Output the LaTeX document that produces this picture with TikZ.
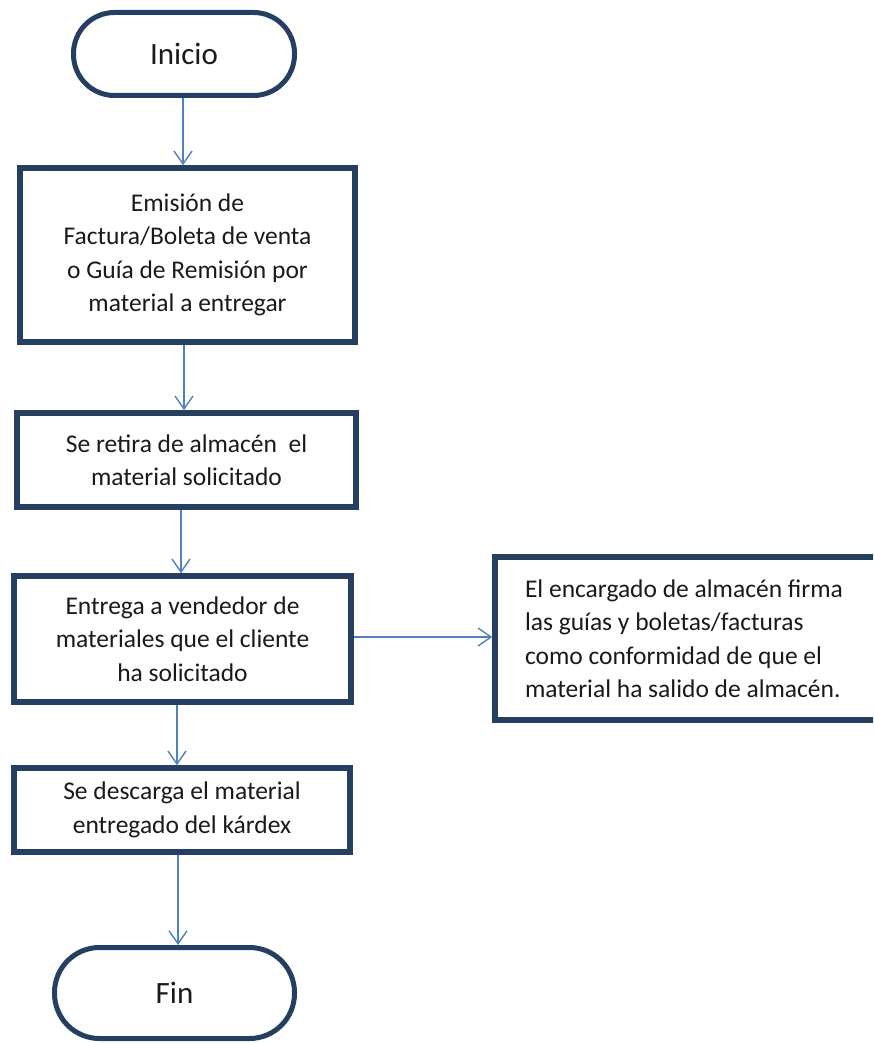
\documentclass[tikz,border=0pt]{standalone}
\usepackage{fontspec}
\setmainfont{Carlito}
\usetikzlibrary{arrows.meta}
\definecolor{navy}{HTML}{243F60}
\definecolor{arrowblue}{HTML}{4F81BD}
\definecolor{txt}{HTML}{1A1A1A}
\begin{document}
\begin{tikzpicture}[x=1pt,y=-1pt,
  term/.style={draw=navy,line width=5pt,rounded corners=41pt,minimum height=83pt,
    text=txt,font={\fontsize{31}{36}\selectfont},inner sep=0pt},
  procbox/.style={draw=navy,line width=5.5pt,text=txt,align=center,inner sep=0pt,
    font={\fontsize{25.5}{33.5}\selectfont}},
  arr/.style={draw=arrowblue,line width=1.4pt,-{Straight Barb[length=13pt,width=18pt,line width=1.4pt]}}
]
\useasboundingbox (0,0) rectangle (873,1043);
\clip (0,0) rectangle (873,1043);
\fill[white] (0,0) rectangle (873,1043);

\node[term,minimum width=221pt] (ini) at (184,54) {Inicio};
\node[procbox,minimum width=335pt,minimum height=174pt] (b1) at (187.5,255)
  {Emisión de\\Factura/Boleta de venta\\o Guía de Remisión por\\material a entregar};
\node[procbox,minimum width=339pt,minimum height=94pt] (b2) at (186.5,460)
  {Se retira de almacén\ \ el\\material solicitado};
\node[procbox,minimum width=337pt,minimum height=126pt] (b3) at (182.5,639)
  {Entrega a vendedor de\\materiales que el cliente\\ha solicitado};
\node[procbox,minimum height=163pt,align=flush left,text width=330pt,inner xsep=30pt] (b4) at (690,638.5)
  {El encargado de almacén firma\\las guías y boletas/facturas\\como conformidad de que el\\material ha salido de almacén.};
\node[procbox,minimum width=336pt,minimum height=84pt] (b5) at (182,810)
  {Se descarga el material\\entregado del kárdex};
\node[term,minimum width=240pt,minimum height=91pt,rounded corners=45pt] (fin) at (174.5,993) {Fin};

\coordinate (a1) at (183,0);
\coordinate (a2) at (184,0);
\coordinate (a3) at (181,0);
\coordinate (a4) at (177,0);
\coordinate (a5) at (178,0);
\coordinate (a6) at (0,637);

\draw[arr] (a1 |- ini.south) -- (a1 |- b1.north);
\draw[arr] (a2 |- b1.south) -- (a2 |- b2.north);
\draw[arr] (a3 |- b2.south) -- (a3 |- b3.north);
\draw[arr] (a6 -| b3.east) -- (a6 -| b4.west);
\draw[arr] (a4 |- b3.south) -- (a4 |- b5.north);
\draw[arr] (a5 |- b5.south) -- (a5 |- fin.north);
\end{tikzpicture}
\end{document}
